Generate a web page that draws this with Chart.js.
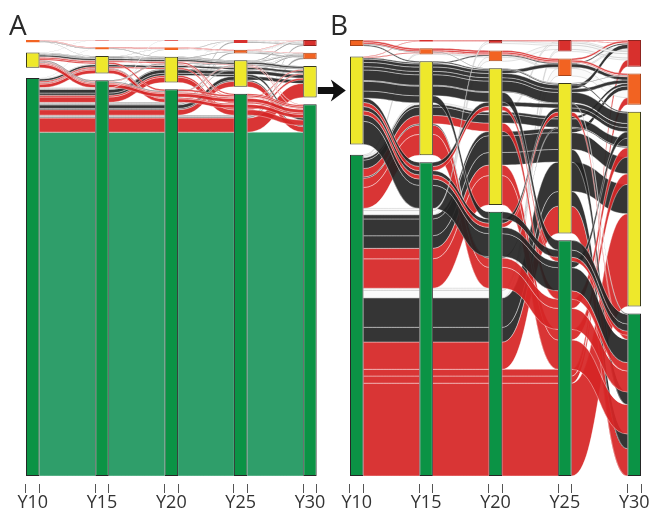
<!DOCTYPE html>
<html lang="en">
<head>
<meta charset="UTF-8">
<title>Alluvial Y10-Y30</title>
<script src="https://cdn.jsdelivr.net/npm/chart.js"></script>
<style>
  body { margin: 0; background: #fff; font-family: 'Open Sans', sans-serif; }
  #wrap { position: relative; width: 651px; height: 512px; overflow: hidden; }
  canvas { position: absolute; top: 0; }
  #cA { left: 0; }
  #cB { left: 316px; }
  .panel { position: absolute; top: 10px; font-size: 28px; line-height: 28px; color: #2a2a2a; }
</style>
</head>
<body>
<div id="wrap">
  <canvas id="cA" width="330" height="512"></canvas>
  <canvas id="cB" width="335" height="512"></canvas>
  <div class="panel" style="left:9px">A</div>
  <div class="panel" style="left:330px">B</div>
</div>
<script>
// axes of the alluvial plot
const years = [10, 15, 20, 25, 30];
const tickLabels = ['Y10', 'Y15', 'Y20', 'Y25', 'Y30'];
// states, stacked from the bottom: green, yellow, orange, red
const categories = ['G', 'Y', 'O', 'R'];

// one stripe per entry (state at Y10, Y15, Y20, Y25, Y30)
const paths = ['GGGGG', 'GGGGY', 'GGGGO', 'GGGGR', 'GGGYG', 'GGGYG', 'GGGYY', 'GGGOO', 'GGGRR',
  'GGYGG', 'GGYGY', 'GGYYG', 'GGYYY', 'GGYYO', 'GGORR', 'GYGGG', 'GYGGY', 'GYGYY',
  'GYYGG', 'GYYYY', 'GYYYO', 'GYYRR', 'GOOOR', 'YGGGG', 'YGGGY', 'YGGYG', 'YGGYY',
  'YGYGG', 'YGYYY', 'YYGGG', 'YYYGG', 'YYYYG', 'YYYYY', 'YYYYO', 'YYYOO', 'YYYYR',
  'YYOOR', 'YOOOO', 'YRRRR', 'OOOOO', 'OOOOR', 'OYYYY', 'ORRRR', 'OOYYO', 'GGRRR'];

// share of people (%) - panel A: everyone, panel B: without the always-green group
const freqA = [82.9, 3.4, 0.38, 0.31, 1.33, 0.30, 0.86, 0.31, 0.29, 1.29, 0.43, 0.52, 0.86,
  0.17, 0.17, 0.86, 0.26, 0.17, 0.34, 0.52, 0.10, 0.07, 0.05, 0.86, 0.26, 0.17, 0.17, 0.17,
  0.17, 0.38, 0.34, 0.14, 0.43, 0.14, 0.14, 0.17, 0.05, 0.03, 0.06, 0.15, 0.15, 0.10, 0.06,
  0.10, 0.08];
const freqB = [0, 22.1, 1.7, 1.6, 6.5, 3.5, 7.0, 1.8, 0.5, 7.0, 2.5, 3.0, 4.0, 1.0, 1.0, 5.0,
  2.2, 0.3, 2.0, 2.0, 0.6, 0.4, 0.3, 5.5, 1.5, 1.0, 1.0, 1.0, 1.0, 1.7, 2.3, 0.2, 2.5, 0.8,
  0.8, 1.0, 0.3, 0.2, 0.15, 0.4, 0.4, 0.3, 0.2, 0.15, 0.5];

// stripe colour group for each entry
const colorA = ['g', 'r', 's', 's', 'r', 'k', 'k', 's', 's', 'r', 'r', 'k', 'k', 'k', 's', 'r',
  'r', 'k', 'r', 'k', 'k', 's', 's', 'r', 'r', 'r', 'k', 'r', 'k', 'r', 'r', 'r', 'k', 'k',
  'k', 'k', 'k', 's', 's', 'r', 'r', 'k', 'r', 'k', 's'];
const colorB = ['g', 'r', 'r', 'r', 'r', 'k', 'k', 'w', 'w', 'r', 'r', 'k', 'k', 'k', 'w', 'r',
  'r', 'k', 'r', 'k', 'k', 'w', 'w', 'k', 'k', 'r', 'k', 'r', 'k', 'k', 'k', 'k', 'k', 'k',
  'k', 'k', 'k', 'r', 'r', 'r', 'r', 'k', 'r', 'k', 'w'];

const flowFill = {
  g: '#2f9e6a', r: 'rgba(214,38,38,0.93)', k: 'rgba(36,36,36,0.92)',
  s: 'rgba(125,125,125,0.85)', w: 'rgba(250,250,250,0.92)'
};
const nodeFill = ['#0b9345', '#eee82b', '#f26322', '#d8302d'];
const nodeLine = ['#262626', '#3a3a1a', '#a8441a', '#8e2420'];

const hw = 0.487;      // half width of a node, in years
const gapTotal = 4.9;  // vertical room shared by the gaps of one axis

function alluvialLayout(freq) {
  const live = paths.map((p, i) => i).filter(i => freq[i] > 0);
  const rank = c => categories.indexOf(c);
  const pos = paths.map(() => []);
  const nodes = categories.map(() => years.map(() => null));
  years.forEach((yr, j) => {
    const keys = [j].concat(years.map((v, k) => k).filter(k => k !== j));
    const order = live.slice().sort((a, b) => {
      for (const k of keys) {
        const d = rank(paths[a][k]) - rank(paths[b][k]);
        if (d) return d;
      }
      return a - b;
    });
    const totals = categories.map(c => live.reduce((s, i) => s + (paths[i][j] === c ? freq[i] : 0), 0));
    const used = totals.filter(t => t > 0).length;
    const gap = used > 1 ? gapTotal / (used - 1) : 0;
    let base = 0;
    categories.forEach((c, ci) => {
      if (!totals[ci]) return;
      nodes[ci][j] = [base, base + totals[ci]];
      let y0 = base;
      order.filter(i => paths[i][j] === c).forEach(i => {
        pos[i][j] = [y0, y0 + freq[i]];
        y0 += freq[i];
      });
      base += totals[ci] + gap;
    });
  });
  return { live, pos, nodes };
}

function flowPlugin(lay, colors) {
  return {
    id: 'flows',
    beforeDatasetsDraw(chart) {
      const { ctx, scales: { x, y } } = chart;
      ctx.save();
      lay.live.forEach(i => {
        for (let j = 0; j < years.length - 1; j++) {
          const x0 = x.getPixelForValue(years[j] + hw);
          const x1 = x.getPixelForValue(years[j + 1] - hw);
          const xm = (x0 + x1) / 2;
          const a = lay.pos[i][j], b = lay.pos[i][j + 1];
          const t0 = y.getPixelForValue(a[1]), s0 = y.getPixelForValue(a[0]);
          const t1 = y.getPixelForValue(b[1]), s1 = y.getPixelForValue(b[0]);
          ctx.beginPath();
          ctx.moveTo(x0, t0);
          ctx.bezierCurveTo(xm, t0, xm, t1, x1, t1);
          ctx.lineTo(x1, s1);
          ctx.bezierCurveTo(xm, s1, xm, s0, x0, s0);
          ctx.closePath();
          ctx.fillStyle = flowFill[colors[i]];
          ctx.fill();
          ctx.beginPath();
          ctx.moveTo(x0, t0);
          ctx.bezierCurveTo(xm, t0, xm, t1, x1, t1);
          ctx.moveTo(x0, s0);
          ctx.bezierCurveTo(xm, s0, xm, s1, x1, s1);
          ctx.strokeStyle = colors[i] === 'w' ? 'rgba(170,170,170,0.55)' : 'rgba(255,255,255,0.65)';
          ctx.lineWidth = 0.6;
          ctx.stroke();
        }
      });
      ctx.restore();
    }
  };
}

// arrow from panel A to panel B
const arrowPlugin = {
  id: 'arrow',
  afterDraw(chart) {
    const { ctx, chartArea } = chart;
    const tip = chartArea.left - 4, cy = 90.5;
    ctx.save();
    ctx.fillStyle = '#111';
    ctx.fillRect(tip - 28, cy - 3.5, 20, 7);
    ctx.beginPath();
    ctx.moveTo(tip, cy);
    ctx.lineTo(tip - 15, cy - 11);
    ctx.quadraticCurveTo(tip - 9, cy, tip - 15, cy + 11);
    ctx.closePath();
    ctx.fill();
    ctx.restore();
  }
};

function makeChart(id, freq, colors, padLeft, padRight, extra) {
  const lay = alluvialLayout(freq);
  const total = freq.reduce((s, v) => s + v, 0);
  const yMax = total + gapTotal;
  const yMin = -yMax * 8 / 436;
  const datasets = categories.map((c, k) => ({
    label: c,
    data: years.map((yr, j) => lay.nodes[k][j] ? { x: yr, y: lay.nodes[k][j] } : null).filter(Boolean),
    backgroundColor: nodeFill[k],
    borderColor: nodeLine[k],
    borderWidth: ctx => (ctx.raw && ctx.raw.y[1] - ctx.raw.y[0] > 0.8 * total / 100) ? 1 : 0,
    borderSkipped: false,
    inflateAmount: 0,
    grouped: false,
    barThickness: 13.5
  }));
  return new Chart(document.getElementById(id), {
    type: 'bar',
    data: { datasets },
    options: {
      responsive: false,
      animation: false,
      layout: { padding: { top: 40, left: padLeft, right: padRight, bottom: 0 } },
      plugins: { legend: { display: false }, tooltip: { enabled: false } },
      scales: {
        x: {
          type: 'linear', min: 9.5, max: 30.5, offset: false,
          afterBuildTicks: ax => { ax.ticks = years.flatMap(v => [{ value: v - hw }, { value: v + hw }]); },
          ticks: {
            autoSkip: false, maxRotation: 0, minRotation: 0, padding: 6.5, labelOffset: 6.75,
            color: '#333', font: { family: 'Open Sans', size: 18, lineHeight: 0.3333 },
            callback: (v, k) => (k % 2 ? '' : tickLabels[k / 2])
          },
          grid: { drawOnChartArea: false, tickLength: 9, color: '#555', lineWidth: 1, offset: false },
          border: { display: false }
        },
        y: { type: 'linear', display: false, min: yMin, max: yMax }
      }
    },
    plugins: [flowPlugin(lay, colors)].concat(extra)
  });
}

makeChart('cA', freqA, colorA, 25.8, 13.1, []);
makeChart('cB', freqB, colorB, 33.8, 9.8, [arrowPlugin]);
</script>
</body>
</html>
